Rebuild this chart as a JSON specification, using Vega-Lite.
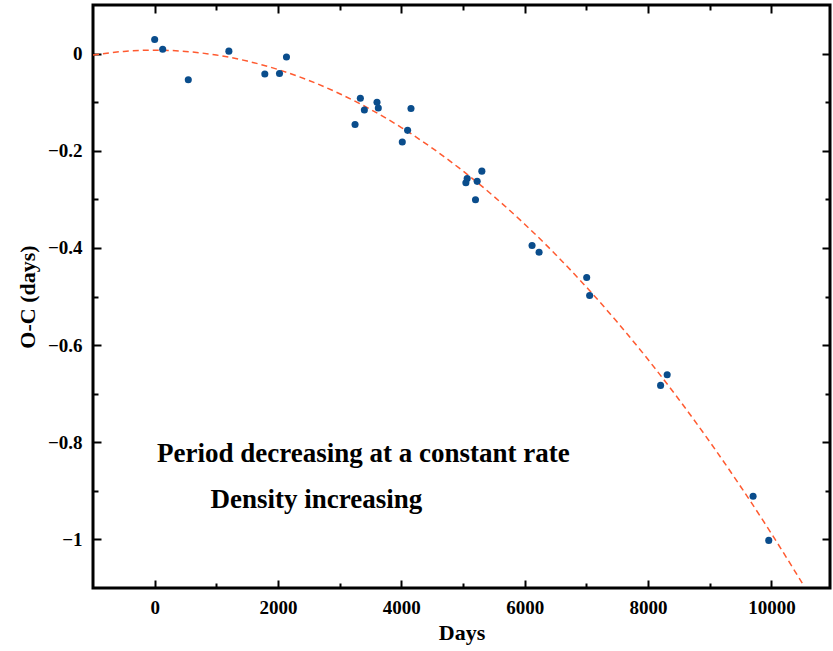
{
  "$schema": "https://vega.github.io/schema/vega-lite/v6.json",
  "width": 737,
  "height": 583,
  "autosize": "none",
  "padding": {"left": 93, "top": 5, "right": 3, "bottom": 63},
  "background": "white",
  "view": {"stroke": "black", "strokeWidth": 3},
  "config": {
    "axis": {
      "labelFont": "Liberation Serif",
      "labelFontWeight": "bold",
      "labelFontSize": 19,
      "labelColor": "black",
      "titleFont": "Liberation Serif",
      "titleFontWeight": "bold",
      "titleFontSize": 22,
      "titleColor": "black",
      "tickColor": "black",
      "tickWidth": 2,
      "domain": false,
      "grid": false
    }
  },
  "datasets": {
    "obs": [
      {"days": 0, "oc": 0.029},
      {"days": 130, "oc": 0.009},
      {"days": 545, "oc": -0.054},
      {"days": 1203, "oc": 0.005},
      {"days": 1786, "oc": -0.042},
      {"days": 2024, "oc": -0.041},
      {"days": 2137, "oc": -0.007},
      {"days": 3249, "oc": -0.146},
      {"days": 3335, "oc": -0.092},
      {"days": 3400, "oc": -0.116},
      {"days": 3605, "oc": -0.100},
      {"days": 3626, "oc": -0.112},
      {"days": 4015, "oc": -0.182},
      {"days": 4101, "oc": -0.158},
      {"days": 4156, "oc": -0.113},
      {"days": 5046, "oc": -0.266},
      {"days": 5067, "oc": -0.257},
      {"days": 5202, "oc": -0.301},
      {"days": 5229, "oc": -0.263},
      {"days": 5305, "oc": -0.242},
      {"days": 6119, "oc": -0.395},
      {"days": 6233, "oc": -0.409},
      {"days": 7005, "oc": -0.461},
      {"days": 7053, "oc": -0.498},
      {"days": 8203, "oc": -0.683},
      {"days": 8310, "oc": -0.661},
      {"days": 9703, "oc": -0.911},
      {"days": 9957, "oc": -1.002}
    ],
    "fit": [
      {"days": -1000, "oc": -0.003},
      {"days": -500, "oc": 0.0045},
      {"days": 0, "oc": 0.007},
      {"days": 500, "oc": 0.0045},
      {"days": 1000, "oc": -0.003},
      {"days": 1500, "oc": -0.0154},
      {"days": 2000, "oc": -0.0328},
      {"days": 2500, "oc": -0.0552},
      {"days": 3000, "oc": -0.0826},
      {"days": 3500, "oc": -0.1149},
      {"days": 4000, "oc": -0.1522},
      {"days": 4500, "oc": -0.1945},
      {"days": 5000, "oc": -0.2418},
      {"days": 5500, "oc": -0.294},
      {"days": 6000, "oc": -0.3512},
      {"days": 6500, "oc": -0.4134},
      {"days": 7000, "oc": -0.4806},
      {"days": 7500, "oc": -0.5527},
      {"days": 8000, "oc": -0.6298},
      {"days": 8500, "oc": -0.7119},
      {"days": 9000, "oc": -0.799},
      {"days": 9500, "oc": -0.891},
      {"days": 10000, "oc": -0.988},
      {"days": 10500, "oc": -1.09}
    ],
    "note1": [{"days": 3383, "oc": -0.825, "label": "Period decreasing at a constant rate"}],
    "note2": [{"days": 2623, "oc": -0.918, "label": "Density increasing"}]
  },
  "layer": [
    {
      "data": {"name": "fit"},
      "mark": {"type": "line", "color": "#ff5a30", "strokeWidth": 1.5, "strokeDash": [6, 4], "interpolate": "monotone", "clip": true},
      "encoding": {
        "x": {"field": "days", "type": "quantitative", "scale": {"domain": [-1000, 10950], "nice": false, "zero": false},
              "axis": {"orient": "top", "values": [0, 2000, 4000, 6000, 8000, 10000], "tickSize": -8, "labels": false, "title": null}},
        "y": {"field": "oc", "type": "quantitative", "scale": {"domain": [-1.1, 0.1], "nice": false, "zero": false},
              "axis": {"orient": "right", "values": [0, -0.2, -0.4, -0.6, -0.8, -1], "tickSize": -8, "labels": false, "title": null}}
      }
    },
    {
      "data": {"name": "obs"},
      "mark": {"type": "point", "filled": true, "shape": "circle", "size": 50, "color": "#0a4d8c", "opacity": 1},
      "encoding": {
        "x": {"field": "days", "type": "quantitative",
              "axis": {"orient": "bottom", "values": [0, 2000, 4000, 6000, 8000, 10000], "format": "d", "tickSize": -8, "labelPadding": 18, "title": "Days", "titlePadding": 5}},
        "y": {"field": "oc", "type": "quantitative",
              "axis": {"orient": "left", "values": [0, -0.2, -0.4, -0.6, -0.8, -1], "format": "~g", "tickSize": -8, "labelPadding": 19, "title": "O-C (days)", "titlePadding": 8}}
      }
    },
    {
      "data": {"name": "note1"},
      "mark": {"type": "text", "font": "Liberation Serif", "fontWeight": "bold", "fontSize": 27, "color": "black", "align": "center", "baseline": "middle"},
      "encoding": {
        "x": {"field": "days", "type": "quantitative",
              "axis": {"orient": "bottom", "values": [1000, 3000, 5000, 7000, 9000], "tickSize": -5, "labels": false, "title": null}},
        "y": {"field": "oc", "type": "quantitative",
              "axis": {"orient": "left", "values": [-0.1, -0.3, -0.5, -0.7, -0.9], "tickSize": -5, "labels": false, "title": null}},
        "text": {"field": "label"}
      }
    },
    {
      "data": {"name": "note2"},
      "mark": {"type": "text", "font": "Liberation Serif", "fontWeight": "bold", "fontSize": 27, "color": "black", "align": "center", "baseline": "middle"},
      "encoding": {
        "x": {"field": "days", "type": "quantitative",
              "axis": {"orient": "top", "values": [1000, 3000, 5000, 7000, 9000], "tickSize": -5, "labels": false, "title": null}},
        "y": {"field": "oc", "type": "quantitative",
              "axis": {"orient": "right", "values": [-0.1, -0.3, -0.5, -0.7, -0.9], "tickSize": -5, "labels": false, "title": null}},
        "text": {"field": "label"}
      }
    }
  ],
  "resolve": {"axis": {"x": "independent", "y": "independent"}}
}
